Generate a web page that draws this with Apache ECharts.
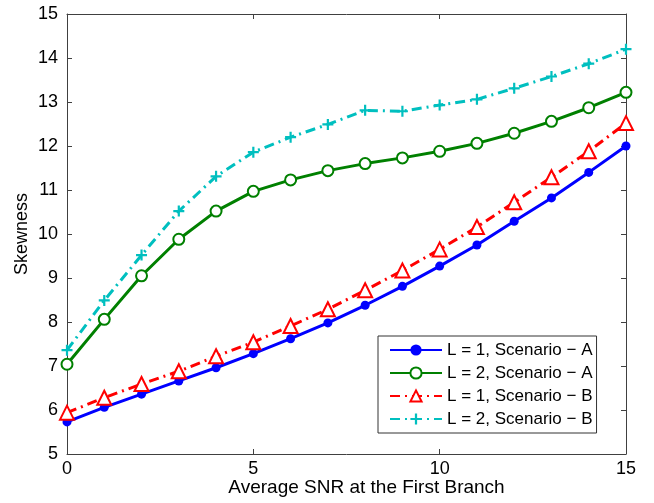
<!DOCTYPE html>
<html>
<head>
<meta charset="utf-8">
<script src="https://cdn.jsdelivr.net/npm/echarts@6/dist/echarts.min.js"></script>
<style>
  html, body { margin: 0; padding: 0; background: #fff; }
  #chart { width: 654px; height: 503px; }
</style>
</head>
<body>
<div id="chart"></div>
<script>
// SNR at the first branch
var snr = [0, 1, 2, 3, 4, 5, 6, 7, 8, 9, 10, 11, 12, 13, 14, 15];
// skewness
var l1A = [5.73, 6.06, 6.36, 6.66, 6.96, 7.28, 7.62, 7.98, 8.38, 8.81, 9.27, 9.75, 10.29, 10.82, 11.40, 12.00];
var l2A = [7.04, 8.06, 9.05, 9.88, 10.52, 10.97, 11.23, 11.44, 11.60, 11.73, 11.88, 12.06, 12.29, 12.56, 12.87, 13.22];
var l1B = [5.94, 6.28, 6.59, 6.88, 7.22, 7.54, 7.91, 8.29, 8.72, 9.17, 9.65, 10.16, 10.72, 11.29, 11.88, 12.52];
var l2B = [7.36, 8.49, 9.52, 10.52, 11.31, 11.86, 12.20, 12.49, 12.81, 12.79, 12.93, 13.06, 13.31, 13.58, 13.87, 14.20];
var names = ['L = 1, Scenario \u2212 A', 'L = 2, Scenario \u2212 A', 'L = 1, Scenario \u2212 B', 'L = 2, Scenario \u2212 B'];

var font = 'Liberation Sans, Arial, sans-serif';
var axisColor = '#404040';
var plusPath = 'path://M4,0H6V4H10V6H6V10H4V6H0V4H4Z';

function pairs(ys) {
    var out = [];
    for (var i = 0; i < snr.length; i++) out.push([snr[i], ys[i]]);
    return out;
}

var chart = echarts.init(document.getElementById('chart'), null, { renderer: 'canvas' });

var boxAxis = {
    axisLine: { show: true, onZero: false, lineStyle: { color: axisColor, width: 1 } },
    axisTick: { show: true, inside: true, length: 5, lineStyle: { color: axisColor } },
    splitLine: { show: false }
};

chart.setOption({
    animation: false,
    backgroundColor: '#fff',
    grid: { left: 67, right: 28, top: 14, bottom: 49, outerBoundsMode: 'none', containLabel: false },
    xAxis: [
        Object.assign({
            type: 'value', min: 0, max: 15, interval: 5, position: 'bottom',
            name: 'Average SNR at the First Branch', nameLocation: 'middle', nameGap: 24,
            nameMoveOverlap: false,
            nameTextStyle: { fontFamily: font, fontSize: 19, color: '#000', padding: [0, 0, 0, 40] },
            axisLabel: { fontFamily: font, fontSize: 18, color: '#000', margin: 6 }
        }, boxAxis),
        Object.assign({
            type: 'value', min: 0, max: 15, interval: 5, position: 'top',
            axisLabel: { show: false }
        }, boxAxis)
    ],
    yAxis: [
        Object.assign({
            type: 'value', min: 5, max: 15, interval: 1, position: 'left',
            name: 'Skewness', nameLocation: 'middle', nameGap: 36,
            nameMoveOverlap: false,
            nameTextStyle: { fontFamily: font, fontSize: 18, color: '#000' },
            axisLabel: { fontFamily: font, fontSize: 18, color: '#000', margin: 9 }
        }, boxAxis),
        Object.assign({
            type: 'value', min: 5, max: 15, interval: 1, position: 'right',
            axisLabel: { show: false }
        }, boxAxis)
    ],
    legend: {
        orient: 'vertical',
        left: 378, top: 336,
        data: names,
        itemWidth: 52, itemHeight: 14, itemGap: 5,
        padding: [5, 4, 5, 11],
        borderColor: '#333', borderWidth: 1, borderRadius: 0,
        backgroundColor: '#fff',
        textStyle: { fontFamily: font, fontSize: 17, color: '#000', lineHeight: 18 }
    },
    series: [
        {
            name: names[0], type: 'line', data: pairs(l1A),
            symbol: 'circle', symbolSize: 9,
            lineStyle: { color: '#0000ff', width: 3 },
            itemStyle: { color: '#0000ff' }
        },
        {
            name: names[1], type: 'line', data: pairs(l2A),
            symbol: 'emptyCircle', symbolSize: 11,
            lineStyle: { color: '#008000', width: 3 },
            itemStyle: { color: '#008000', borderWidth: 2.5 }
        },
        {
            name: names[2], type: 'line', data: pairs(l1B),
            symbol: 'emptyTriangle', symbolSize: 14,
            lineStyle: { color: '#ff0000', width: 3, type: [10, 5, 2, 5] },
            itemStyle: { color: '#ff0000', borderWidth: 2.5 }
        },
        {
            name: names[3], type: 'line', data: pairs(l2B),
            symbol: plusPath, symbolSize: 11,
            lineStyle: { color: '#00bfbf', width: 3, type: [10, 5, 2, 5] },
            itemStyle: { color: '#00bfbf' }
        }
    ]
});
</script>
</body>
</html>
